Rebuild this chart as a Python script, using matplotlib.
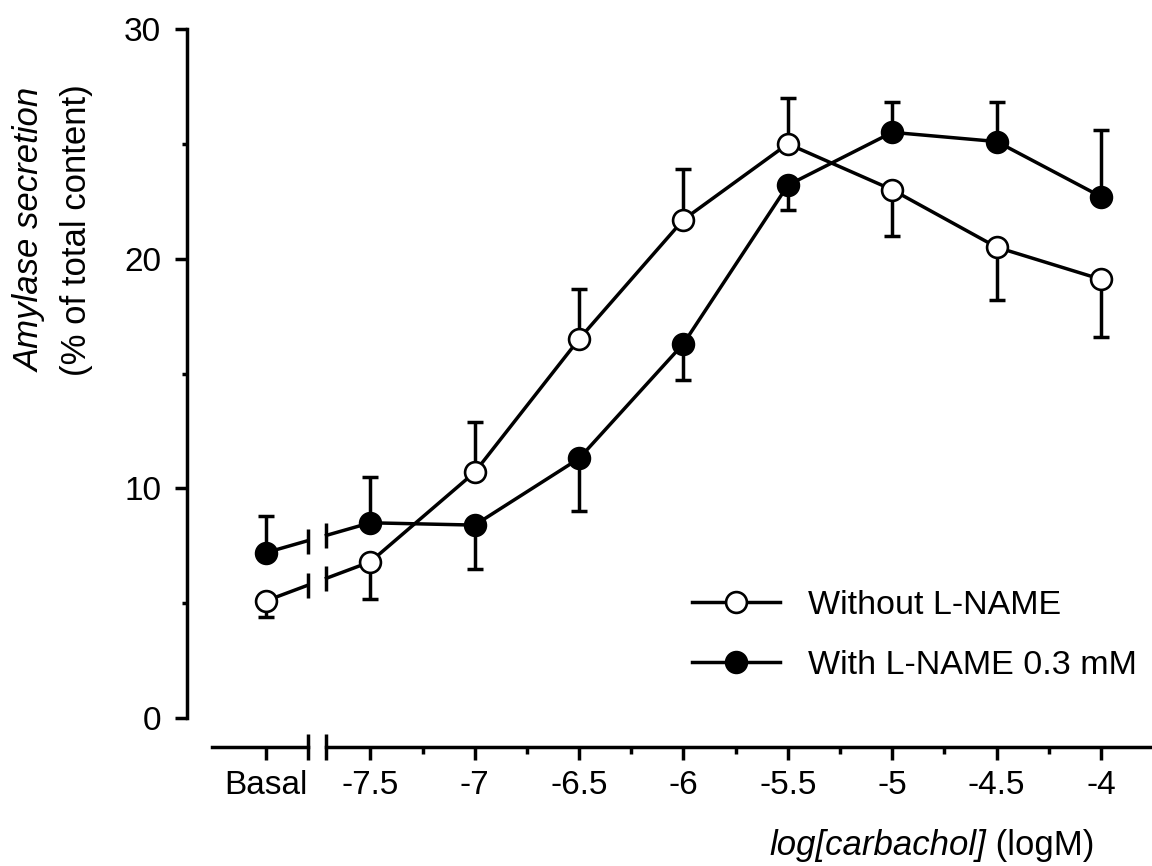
import numpy as np
import matplotlib
matplotlib.use('Agg')
import matplotlib.pyplot as plt
from matplotlib.lines import Line2D

# ---- data ----
conc_labels = ['Basal', '-7.5', '-7', '-6.5', '-6', '-5.5', '-5', '-4.5', '-4']
conc_pos = [-8.0, -7.5, -7.0, -6.5, -6.0, -5.5, -5.0, -4.5, -4.0]
minor_pos = [-7.25, -6.75, -6.25, -5.75, -5.25, -4.75, -4.25]

without_mean = [5.1, 6.8, 10.7, 16.5, 21.7, 25.0, 23.0, 20.5, 19.1]
without_err_lo = [0.7, 1.6, 0, 0, 0, 0, 2.0, 2.3, 2.5]
without_err_hi = [0, 0, 2.2, 2.2, 2.2, 2.0, 0, 0, 0]

with_mean = [7.2, 8.5, 8.4, 11.3, 16.3, 23.2, 25.5, 25.1, 22.7]
with_err_lo = [0, 0, 1.9, 2.3, 1.6, 1.1, 0, 0, 0]
with_err_hi = [1.6, 2.0, 0, 0, 0, 0, 1.3, 1.7, 2.9]

labels = ['Without L-NAME', 'With L-NAME 0.3 mM']
y_ticks = [0, 10, 20, 30]
y_minor = [5, 15, 25]

# axis-break positions (x data units)
BREAK_L, BREAK_R = -7.80, -7.71
AXIS_START = -8.26

plt.rcParams['font.family'] = ['Liberation Sans', 'DejaVu Sans']
FS_TICK = 24
FS_LAB = 25
FS_LEG = 24.5
LW = 2.5
MS = 15
MEW = 1.9

fig = plt.figure(figsize=(11.52, 8.66), dpi=100)
ax = fig.add_axes([187/1152, 1-747/866, 1-187/1152, (747-29)/866])
XMIN, XMAX = -8.378, -3.756
ax.set_xlim(XMIN, XMAX)
ax.set_ylim(-1.262, 30)


def draw_series(means, lo, hi, face):
    xb, x1 = conc_pos[0], conc_pos[1]
    yb, y1 = means[0], means[1]
    yl = np.interp(BREAK_L, [xb, x1], [yb, y1])
    yr = np.interp(BREAK_R, [xb, x1], [yb, y1])
    ax.plot([xb, BREAK_L], [yb, yl], color='k', lw=LW, zorder=3)
    ax.plot([BREAK_R, x1], [yr, y1], color='k', lw=LW, zorder=3)
    ax.plot([BREAK_L, BREAK_R], [yl, yr], ls='none', marker='|', ms=18,
            mew=LW, color='k', zorder=3)
    ax.plot(conc_pos[1:], means[1:], color='k', lw=LW, zorder=3)
    ax.errorbar(conc_pos, means, yerr=[lo, hi], fmt='none', ecolor='k',
                elinewidth=LW, capsize=6, capthick=LW, zorder=2)
    ax.plot(conc_pos, means, ls='none', marker='o', ms=MS, mfc=face,
            mec='k', mew=MEW, zorder=4, clip_on=False)


draw_series(without_mean, without_err_lo, without_err_hi, 'white')
draw_series(with_mean, with_err_lo, with_err_hi, 'black')

# spines
for s in ['top', 'right', 'bottom']:
    ax.spines[s].set_visible(False)
ax.spines['left'].set_bounds(0, 30)
ax.spines['left'].set_linewidth(LW)

trans = ax.get_xaxis_transform()
ax.plot([AXIS_START, BREAK_L], [0, 0], transform=trans, clip_on=False,
        color='k', lw=LW)
ax.plot([BREAK_R, XMAX], [0, 0], transform=trans, clip_on=False,
        color='k', lw=LW)
ax.plot([BREAK_L, BREAK_R], [0, 0], transform=trans, clip_on=False,
        ls='none', marker='|', ms=19, mew=LW, color='k')

ax.set_xticks(conc_pos, conc_labels)
ax.set_xticks(minor_pos, minor=True)
ax.set_yticks(y_ticks, [str(v) for v in y_ticks])
ax.set_yticks(y_minor, minor=True)
ax.tick_params(axis='x', which='major', length=9.4, width=LW, labelsize=FS_TICK, pad=7)
ax.tick_params(axis='x', which='minor', length=5, width=LW)
ax.tick_params(axis='y', which='major', length=8.6, width=LW, labelsize=FS_TICK, pad=10)
ax.tick_params(axis='y', which='minor', length=3.6, width=LW)

# y label (two lines)
fig.text(30/1152, 1-230/866, 'Amylase secretion', rotation=90, ha='center',
         va='center', style='italic', fontsize=FS_LAB)
fig.text(77/1152, 1-230/866, '(% of total content)', rotation=90, ha='center',
         va='center', fontsize=FS_LAB)

# x label
t1 = fig.text(769/1152, 1-862/866, 'log[carbachol]', style='italic', ha='left',
              va='bottom', fontsize=FS_LAB)
ax.annotate(' (logM)', xy=(1, 0), xycoords=t1, ha='left', va='bottom',
            fontsize=FS_LAB, annotation_clip=False)

handles = [
    Line2D([], [], color='k', lw=LW, marker='o', ms=MS, mfc='white', mec='k', mew=MEW),
    Line2D([], [], color='k', lw=LW, marker='o', ms=MS, mfc='black', mec='k', mew=MEW),
]
ax.legend(handles, labels, loc='upper left', bbox_to_anchor=(692/1152, 1-590/866),
          bbox_transform=fig.transFigure, frameon=False, fontsize=FS_LEG,
          handlelength=2.6, handletextpad=0.8, labelspacing=0.84,
          borderpad=0, borderaxespad=0)

fig.savefig('out.png', dpi=100, facecolor='white')
